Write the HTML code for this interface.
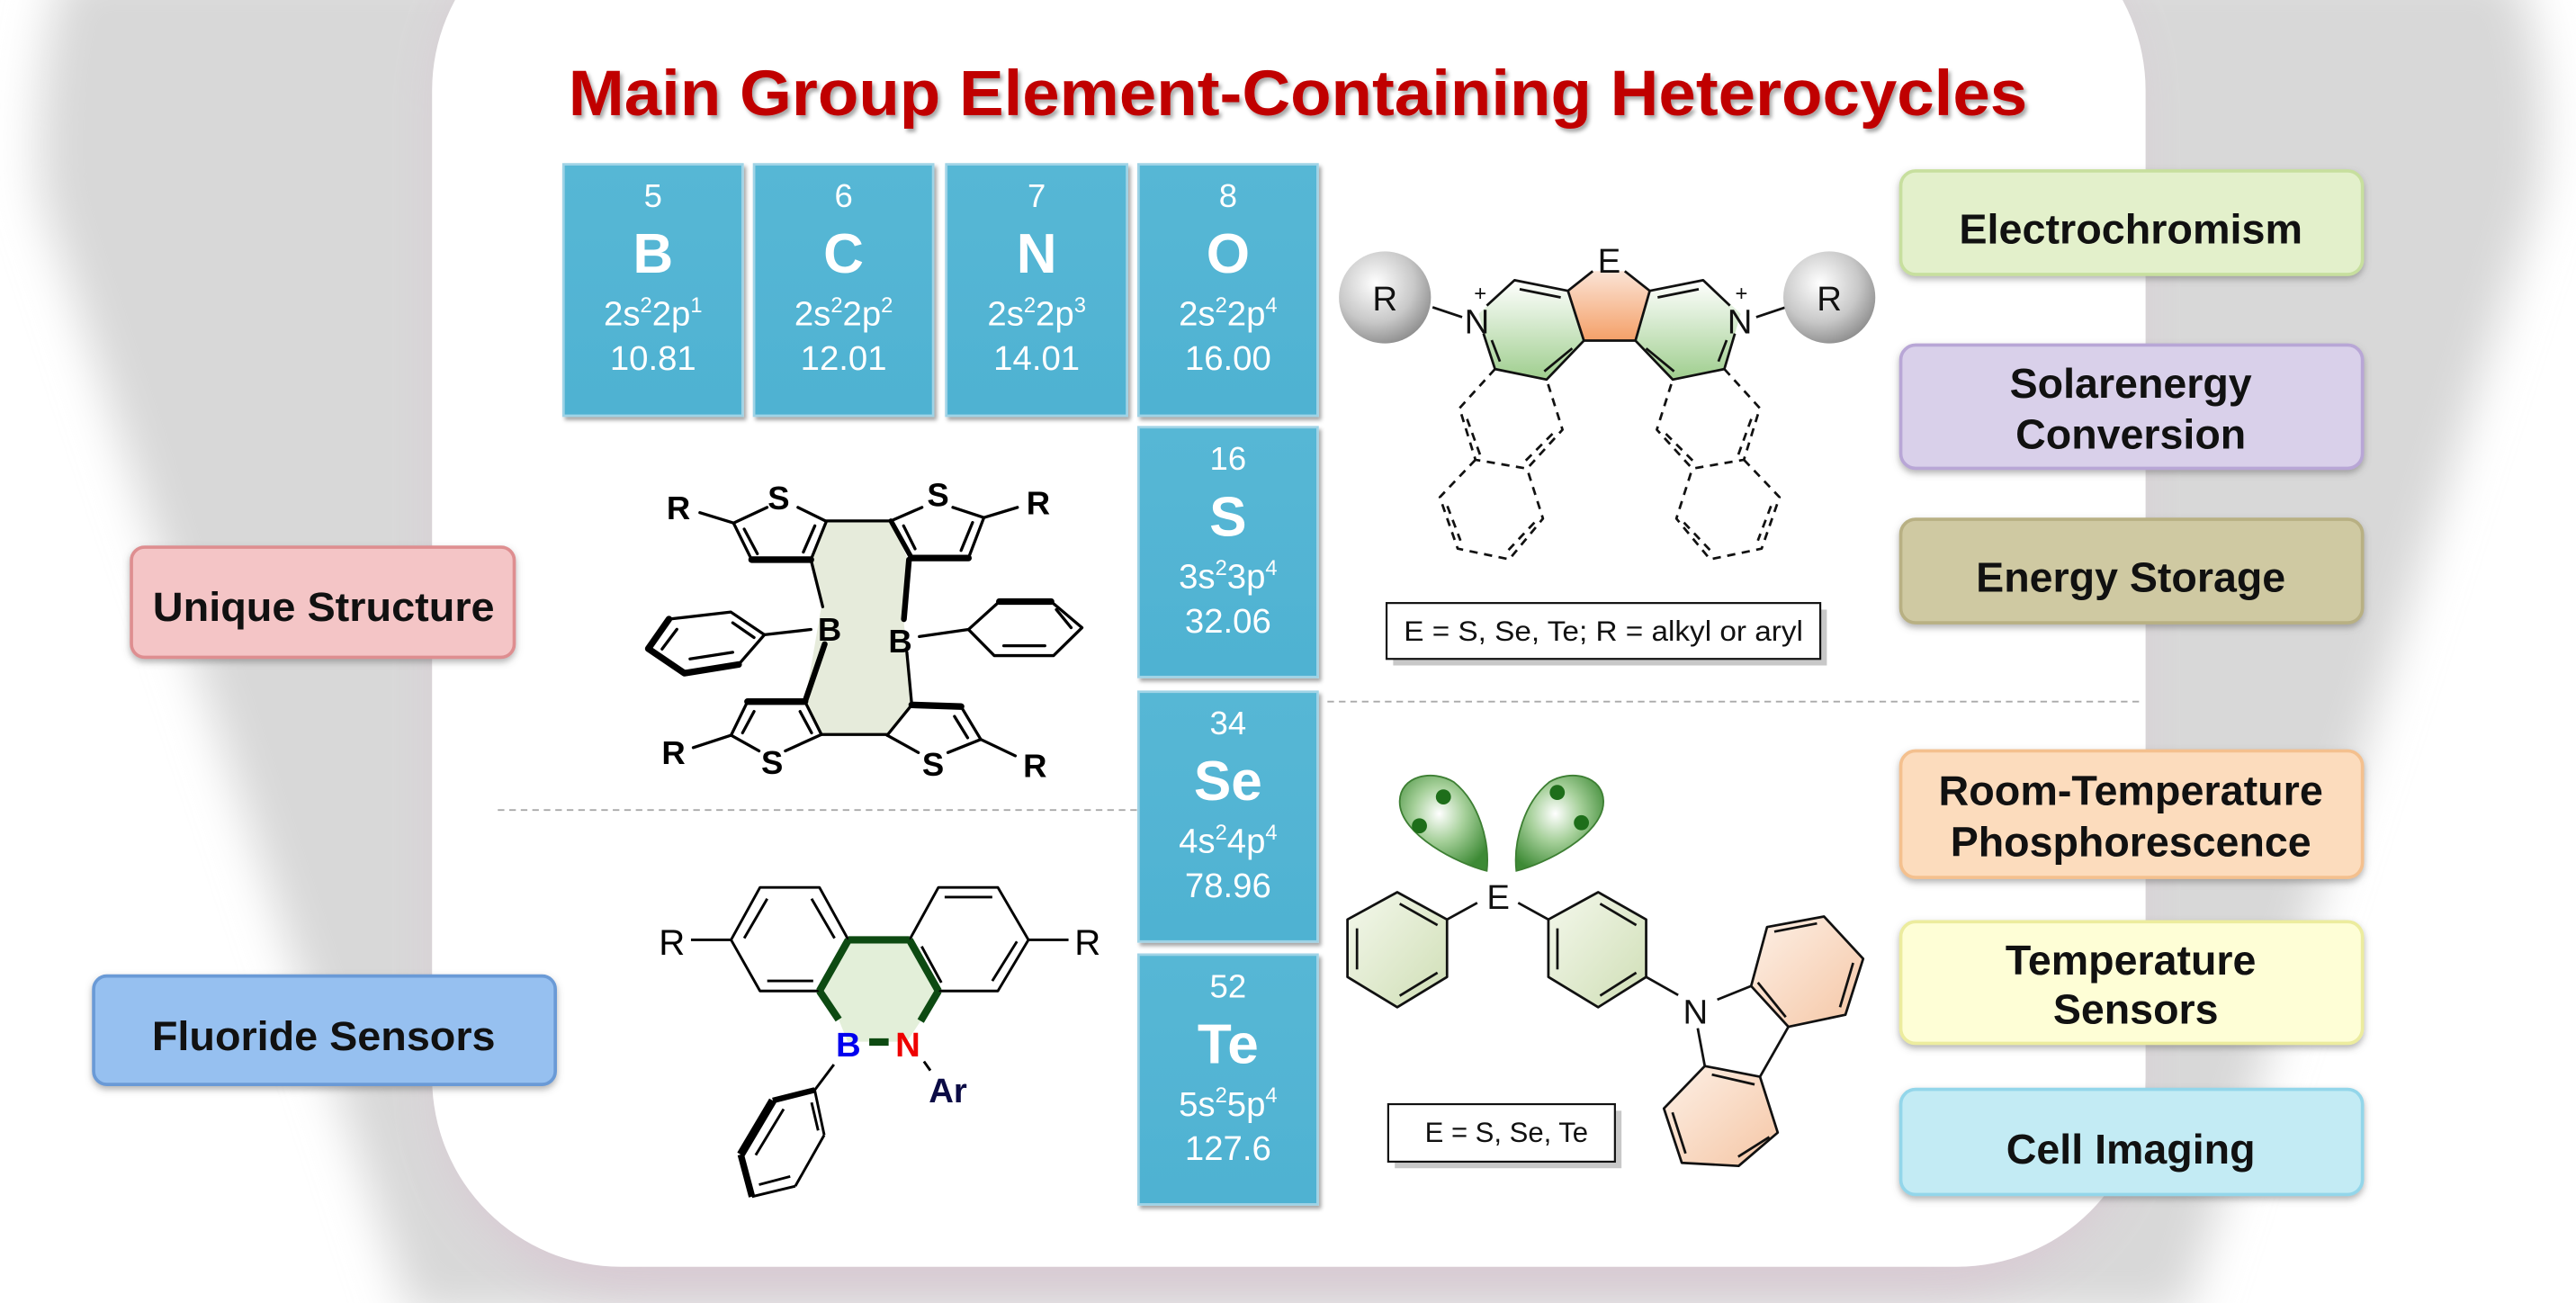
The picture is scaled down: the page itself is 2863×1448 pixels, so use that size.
<!DOCTYPE html>
<html><head><meta charset="utf-8"><style>
html,body{margin:0;padding:0;background:#fff;}
svg{display:block;}
text{font-family:"Liberation Sans",Arial,sans-serif;}
</style></head><body>
<svg width="2863" height="1448" viewBox="0 0 1568 793" xmlns="http://www.w3.org/2000/svg">
<defs>
<filter id="blur" x="-10%" y="-10%" width="120%" height="120%"><feGaussianBlur stdDeviation="14"/></filter>
<filter id="sh" x="-10%" y="-10%" width="130%" height="130%"><feDropShadow dx="1.5" dy="2" stdDeviation="1.2" flood-color="#000" flood-opacity="0.35"/></filter>
<filter id="glow" x="-10%" y="-20%" width="120%" height="140%"><feDropShadow dx="0" dy="2" stdDeviation="2" flood-color="#666" flood-opacity="0.5"/></filter>
<linearGradient id="tile" x1="0" y1="0" x2="0" y2="1"><stop offset="0" stop-color="#56b7d5"/><stop offset="1" stop-color="#4fb2d2"/></linearGradient>
<radialGradient id="ball" cx="0.4" cy="0.35" r="0.7"><stop offset="0" stop-color="#ffffff"/><stop offset="0.6" stop-color="#c8c8c8"/><stop offset="1" stop-color="#8a8a8a"/></radialGradient>
<radialGradient id="lobe" cx="0.45" cy="0.4" r="0.65"><stop offset="0" stop-color="#ffffff"/><stop offset="0.45" stop-color="#a6d09a"/><stop offset="1" stop-color="#3d8a35"/></radialGradient>
<linearGradient id="gring" x1="0" y1="0" x2="0" y2="1"><stop offset="0" stop-color="#ffffff"/><stop offset="1" stop-color="#9fce8e"/></linearGradient>
<linearGradient id="oring" x1="0" y1="0" x2="0" y2="1"><stop offset="0" stop-color="#fbe3d5"/><stop offset="1" stop-color="#f4a068"/></linearGradient>
<linearGradient id="pring" x1="0" y1="0" x2="1" y2="1"><stop offset="0" stop-color="#f4f8ec"/><stop offset="1" stop-color="#cfdeb5"/></linearGradient>
<linearGradient id="cring" x1="0" y1="0" x2="1" y2="1"><stop offset="0" stop-color="#fdf0e6"/><stop offset="1" stop-color="#f5c6a5"/></linearGradient>
</defs>

<path d="M40,-20 L1530,-20 Q1555,40 1545,120 L1330,800 L250,800 L25,120 Q20,40 40,-20 Z" fill="#d8d8d8" filter="url(#blur)"/>
<rect x="268" y="-60" width="1030" height="845" rx="120" fill="#d9c8d3" filter="url(#blur)" opacity="0.9"/>
<rect x="263" y="-60" width="1043" height="831" rx="115" fill="#ffffff"/>

<text x="790" y="70" font-size="39" font-weight="bold" fill="#c00000" text-anchor="middle" textLength="888" lengthAdjust="spacingAndGlyphs" filter="url(#sh)">Main Group Element-Containing Heterocycles</text>

<g filter="url(#sh)">
<rect x="343" y="100" width="109" height="153" fill="url(#tile)" stroke="#9fd3e6" stroke-width="1.5"/>
<rect x="459" y="100" width="109" height="153" fill="url(#tile)" stroke="#9fd3e6" stroke-width="1.5"/>
<rect x="576" y="100" width="110" height="153" fill="url(#tile)" stroke="#9fd3e6" stroke-width="1.5"/>
<rect x="693" y="100" width="109" height="153" fill="url(#tile)" stroke="#9fd3e6" stroke-width="1.5"/>
<rect x="693" y="260" width="109" height="152" fill="url(#tile)" stroke="#9fd3e6" stroke-width="1.5"/>
<rect x="693" y="421" width="109" height="152" fill="url(#tile)" stroke="#9fd3e6" stroke-width="1.5"/>
<rect x="693" y="581" width="109" height="152" fill="url(#tile)" stroke="#9fd3e6" stroke-width="1.5"/>
</g>
<g fill="#fff" text-anchor="middle">
<g transform="translate(397.5,0)"><text y="126" font-size="20">5</text><text y="166" font-size="34" font-weight="bold">B</text><text y="198" font-size="21">2s<tspan dy="-8" font-size="13">2</tspan><tspan dy="8">2p</tspan><tspan dy="-8" font-size="13">1</tspan></text><text y="225" font-size="21">10.81</text></g>
<g transform="translate(513.5,0)"><text y="126" font-size="20">6</text><text y="166" font-size="34" font-weight="bold">C</text><text y="198" font-size="21">2s<tspan dy="-8" font-size="13">2</tspan><tspan dy="8">2p</tspan><tspan dy="-8" font-size="13">2</tspan></text><text y="225" font-size="21">12.01</text></g>
<g transform="translate(631,0)"><text y="126" font-size="20">7</text><text y="166" font-size="34" font-weight="bold">N</text><text y="198" font-size="21">2s<tspan dy="-8" font-size="13">2</tspan><tspan dy="8">2p</tspan><tspan dy="-8" font-size="13">3</tspan></text><text y="225" font-size="21">14.01</text></g>
<g transform="translate(747.5,0)"><text y="126" font-size="20">8</text><text y="166" font-size="34" font-weight="bold">O</text><text y="198" font-size="21">2s<tspan dy="-8" font-size="13">2</tspan><tspan dy="8">2p</tspan><tspan dy="-8" font-size="13">4</tspan></text><text y="225" font-size="21">16.00</text></g>
<g transform="translate(747.5,160)"><text y="126" font-size="20">16</text><text y="166" font-size="34" font-weight="bold">S</text><text y="198" font-size="21">3s<tspan dy="-8" font-size="13">2</tspan><tspan dy="8">3p</tspan><tspan dy="-8" font-size="13">4</tspan></text><text y="225" font-size="21">32.06</text></g>
<g transform="translate(747.5,321)"><text y="126" font-size="20">34</text><text y="166" font-size="34" font-weight="bold">Se</text><text y="198" font-size="21">4s<tspan dy="-8" font-size="13">2</tspan><tspan dy="8">4p</tspan><tspan dy="-8" font-size="13">4</tspan></text><text y="225" font-size="21">78.96</text></g>
<g transform="translate(747.5,481)"><text y="126" font-size="20">52</text><text y="166" font-size="34" font-weight="bold">Te</text><text y="198" font-size="21">5s<tspan dy="-8" font-size="13">2</tspan><tspan dy="8">5p</tspan><tspan dy="-8" font-size="13">4</tspan></text><text y="225" font-size="21">127.6</text></g>
</g>

<line x1="303" y1="493" x2="693" y2="493" stroke="#aaa" stroke-width="1" stroke-dasharray="4,3"/>
<line x1="808" y1="427" x2="1305" y2="427" stroke="#aaa" stroke-width="1" stroke-dasharray="4,3"/>

<g filter="url(#glow)">
<rect x="80" y="333" width="233" height="67" rx="8" fill="#f4c5c6" stroke="#de8e90" stroke-width="2"/>
<rect x="57" y="594" width="281" height="66" rx="8" fill="#96c0f0" stroke="#6a9ad6" stroke-width="2"/>
</g>
<g font-size="25" font-weight="bold" fill="#111" text-anchor="middle">
<text x="197" y="378" textLength="208" lengthAdjust="spacingAndGlyphs">Unique Structure</text>
<text x="197" y="639" textLength="209" lengthAdjust="spacingAndGlyphs">Fluoride Sensors</text>
</g>

<g filter="url(#glow)" stroke-width="2">
<rect x="1157" y="104" width="281" height="63" rx="9" fill="#e3f0cb" stroke="#c7df9e"/>
<rect x="1157" y="210" width="281" height="75" rx="9" fill="#d9d0ea" stroke="#b8a6d6"/>
<rect x="1157" y="316" width="281" height="63" rx="9" fill="#cfc9a2" stroke="#b8b083"/>
<rect x="1157" y="457" width="281" height="77" rx="9" fill="#fcdcbd" stroke="#f4c08e"/>
<rect x="1157" y="561" width="281" height="74" rx="9" fill="#fefed6" stroke="#ecec9e"/>
<rect x="1157" y="663" width="281" height="64" rx="9" fill="#c3ebf4" stroke="#93d6ea"/>
</g>
<g font-size="25.5" font-weight="bold" fill="#111" text-anchor="middle">
<text x="1297" y="148" textLength="209" lengthAdjust="spacingAndGlyphs">Electrochromism</text>
<text x="1297" y="242">Solarenergy</text><text x="1297" y="273">Conversion</text>
<text x="1297" y="360">Energy Storage</text>
<text x="1297" y="490" textLength="234" lengthAdjust="spacingAndGlyphs">Room-Temperature</text><text x="1297" y="521">Phosphorescence</text>
<text x="1297" y="593">Temperature</text><text x="1300" y="623">Sensors</text>
<text x="1297" y="708">Cell Imaging</text>
</g>

<g stroke="#111" stroke-width="1.5" fill="none" stroke-linejoin="round">
<polygon points="900,191 921.9,170.5 954.4,177 964.1,207.3 941.4,231 910,224.6" fill="url(#gring)" stroke="none"/>
<polygon points="1059.6,191 1037.7,170.5 1005.2,177 995.5,207.3 1018.2,231 1049.6,224.6" fill="url(#gring)" stroke="none"/>
<polygon points="969.5,165 989,165 1004.2,177 995.5,207.3 964.1,207.3 954.4,177" fill="url(#oring)" stroke="none"/>
<polyline points="905,186 921.9,170.5 954.4,177 969.5,165"/>
<polyline points="989,165 1004.2,177 1036.7,170.5 1053,186"/>
<polyline points="954.4,177 964.1,207.3 941.4,231 910,224.6 903,203"/>
<polyline points="1004.2,177 995.5,207.3 1018.2,231 1049.6,224.6 1056,203"/>
<line x1="964.1" y1="207.3" x2="995.5" y2="207.3"/>
<line x1="925" y1="176" x2="950" y2="181"/>
<line x1="1034" y1="176" x2="1009" y2="181"/>
<line x1="957" y1="212" x2="940" y2="226"/>
<line x1="1002" y1="212" x2="1019" y2="226"/>
<line x1="908" y1="207" x2="913" y2="220"/>
<line x1="1051" y1="207" x2="1046" y2="220"/>
<line x1="872" y1="187" x2="890" y2="193"/>
<line x1="1087" y1="187" x2="1069" y2="193"/>
<g stroke-dasharray="5,4">
<polyline points="910,224.6 888.4,248.4 898.1,279.8 929.5,285.2 951.1,261.5 941.4,231"/>
<polyline points="898.1,279.8 876.4,302.6 887.3,333.9 918.7,340.4 939.2,315.6 929.5,285.2"/>
<line x1="893" y1="255" x2="901" y2="277"/><line x1="945" y1="264" x2="928" y2="281"/>
<line x1="881" y1="308" x2="889" y2="329"/><line x1="934" y1="318" x2="917" y2="336"/>
<polyline points="1049.6,224.6 1071.2,248.4 1061.5,279.8 1030.1,285.2 1008.5,261.5 1018.2,231"/>
<polyline points="1061.5,279.8 1083.2,302.6 1072.3,333.9 1040.9,340.4 1020.4,315.6 1030.1,285.2"/>
<line x1="1066" y1="255" x2="1058" y2="277"/><line x1="1014" y1="264" x2="1031" y2="281"/>
<line x1="1078" y1="308" x2="1070" y2="329"/><line x1="1025" y1="318" x2="1042" y2="336"/>
</g>
</g>
<circle cx="843" cy="181" r="28" fill="url(#ball)"/>
<circle cx="1113.5" cy="181" r="28" fill="url(#ball)"/>
<g font-size="21" fill="#111" text-anchor="middle">
<text x="843" y="189">R</text><text x="1113.5" y="189">R</text>
<text x="979.5" y="166">E</text>
<text x="899" y="203">N</text><text x="1059" y="203">N</text>
<text x="901" y="183" font-size="13">+</text><text x="1060" y="183" font-size="13">+</text>
</g>
<rect x="848" y="371" width="264" height="34" fill="#c8c8c8"/>
<rect x="844" y="367" width="264" height="34" fill="#fff" stroke="#111" stroke-width="1.2"/>
<text x="976" y="390" font-size="17" text-anchor="middle" fill="#111" textLength="243" lengthAdjust="spacingAndGlyphs">E = S, Se, Te; R = alkyl or aryl</text>

<g stroke="#111" stroke-width="1.5" fill="none" stroke-linejoin="round">
<polygon points="850.5,543 880.8,559.6 880.8,594.6 850.5,613 820.2,594.6 820.2,559.6" fill="url(#pring)"/>
<line x1="852" y1="550" x2="875" y2="563"/><line x1="826" y1="565" x2="826" y2="590"/><line x1="852" y1="606" x2="875" y2="592"/>
<polygon points="972.8,543 1002,559.6 1002,594.6 972.8,613 942.5,594.6 942.5,559.6" fill="url(#pring)"/>
<line x1="974" y1="550" x2="996" y2="563"/><line x1="948" y1="565" x2="948" y2="590"/><line x1="974" y1="606" x2="996" y2="592"/>
<line x1="880.8" y1="559.6" x2="899.2" y2="549.5"/><line x1="924.1" y1="549.5" x2="942.5" y2="559.6"/>
<line x1="1002" y1="594.6" x2="1021.5" y2="605.6"/>
<line x1="1045.3" y1="608.4" x2="1065.9" y2="600.1"/>
<line x1="1033.4" y1="625.8" x2="1037.7" y2="648.8"/>
<polygon points="1065.9,600.1 1075.6,564.2 1110.3,557.8 1134.1,583.5 1123.3,617.6 1088.6,624.9" fill="url(#cring)"/>
<line x1="1080" y1="567" x2="1106" y2="562"/><line x1="1128" y1="586" x2="1120" y2="613"/><line x1="1070" y1="598" x2="1087" y2="619"/>
<polygon points="1037.7,648.8 1071.3,655.3 1082.1,689.3 1058.3,709.6 1023.7,707.7 1012.8,674.6" fill="url(#cring)"/>
<line x1="1042" y1="654" x2="1068" y2="660"/><line x1="1077" y1="692" x2="1058" y2="704"/><line x1="1026" y1="702" x2="1018" y2="677"/>
<line x1="1088.6" y1="624.9" x2="1071.3" y2="655.3"/>
</g>
<path d="M905,530 C888,526 852,508 852,488 C852,472 872,468 885,476 C900,488 907,512 905,530 Z" fill="url(#lobe)" stroke="#3d7f33" stroke-width="1"/>
<path d="M923,530 C921,512 928,488 943,476 C956,468 976,472 976,488 C976,508 940,526 923,530 Z" fill="url(#lobe)" stroke="#3d7f33" stroke-width="1"/>
<circle cx="878.6" cy="485" r="4.6" fill="#1e6e1a"/><circle cx="864" cy="502.6" r="4.6" fill="#1e6e1a"/>
<circle cx="947.9" cy="482.3" r="4.6" fill="#1e6e1a"/><circle cx="962.6" cy="500.7" r="4.6" fill="#1e6e1a"/>
<text x="912" y="553" font-size="21" text-anchor="middle" fill="#111">E</text>
<text x="1032" y="623" font-size="21" text-anchor="middle" fill="#111">N</text>
<rect x="849" y="676" width="138" height="35" fill="#c8c8c8"/>
<rect x="845" y="672" width="138" height="35" fill="#fff" stroke="#111" stroke-width="1.2"/>
<text x="917" y="695" font-size="17" text-anchor="middle" fill="#111">E = S, Se, Te</text>

<polygon points="503,317 542,317 553,341 550,377 555,429 540,447 500,447 490,427 500,369 493.6,340.6" fill="#e6ebdb"/>
<g stroke="#000" stroke-width="1.8" fill="none" stroke-linejoin="round" stroke-linecap="round">
<line x1="426" y1="312" x2="446.5" y2="318.3"/>
<line x1="446.5" y1="318.3" x2="466.9" y2="308.8"/><line x1="485.7" y1="308.8" x2="503" y2="317.3"/>
<line x1="446.5" y1="318.3" x2="457.5" y2="340.6"/><line x1="453" y1="322" x2="461" y2="337"/>
<line x1="457.5" y1="340.6" x2="493.6" y2="340.6" stroke-width="4"/>
<line x1="493.6" y1="340.6" x2="503" y2="317.3"/><line x1="489" y1="336" x2="496" y2="320"/>
<line x1="503" y1="317" x2="542.3" y2="317"/>
<line x1="542.3" y1="317" x2="554.9" y2="339.6" stroke-width="3"/><line x1="550" y1="320" x2="557" y2="334"/>
<line x1="554.9" y1="339.6" x2="589.5" y2="339.6" stroke-width="4"/>
<line x1="589.5" y1="339.6" x2="598.9" y2="315"/><line x1="585" y1="335" x2="592" y2="318"/>
<line x1="542.3" y1="317" x2="561.2" y2="308.8"/><line x1="580" y1="308.8" x2="598.9" y2="315"/>
<line x1="598.9" y1="315" x2="619.3" y2="308.8"/>
<line x1="493.6" y1="340.6" x2="500.8" y2="369.3"/>
<line x1="553.3" y1="340.6" x2="550.2" y2="376.8" stroke-width="3.5"/>
<line x1="465.3" y1="386.3" x2="493.6" y2="383.1"/>
<polyline points="465.3,386.3 444.9,372.5 407.2,376.8"/>
<polyline points="407.2,376.8 394.6,394.8 416.6,409.7 449.6,404.4" stroke-width="4"/>
<line x1="449.6" y1="404.4" x2="465.3" y2="386.3"/>
<line x1="412" y1="383" x2="403" y2="395"/><line x1="420" y1="401" x2="446" y2="397"/><line x1="446" y1="379" x2="459" y2="388"/>
<line x1="559.6" y1="387.4" x2="589.5" y2="383.1"/>
<polyline points="589.5,383.1 608.3,366.1"/>
<line x1="608.3" y1="366.1" x2="639.8" y2="366.1" stroke-width="4"/>
<polyline points="639.8,366.1 658.6,382 641.3,399 605.2,399 589.5,383.1"/>
<line x1="611" y1="393" x2="636" y2="393"/><line x1="643" y1="371" x2="652" y2="382"/>
<line x1="502" y1="392" x2="490" y2="427" stroke-width="3.5"/>
<line x1="552" y1="397" x2="555" y2="429"/>
<line x1="490" y1="427" x2="455" y2="427" stroke-width="4"/>
<line x1="490" y1="427" x2="500" y2="447"/><line x1="487" y1="433" x2="494" y2="446"/>
<line x1="455" y1="427" x2="445" y2="447.5"/><line x1="459" y1="433" x2="452" y2="446"/>
<line x1="445" y1="447.5" x2="462" y2="457"/><line x1="478" y1="457" x2="500" y2="447"/>
<line x1="422" y1="455" x2="445" y2="447.5"/>
<line x1="500" y1="447" x2="540" y2="447"/>
<line x1="555" y1="429" x2="585" y2="430" stroke-width="4"/>
<line x1="555" y1="429" x2="540" y2="447.5"/>
<line x1="585" y1="430" x2="597" y2="450"/><line x1="581" y1="436" x2="589" y2="449"/>
<line x1="540" y1="447.5" x2="559" y2="458"/><line x1="577" y1="458" x2="597" y2="450"/>
<line x1="597" y1="450" x2="618" y2="460"/>
</g>
<g font-size="20" font-weight="bold" fill="#000" text-anchor="middle">
<text x="413" y="316">R</text><text x="474" y="310">S</text><text x="571" y="308">S</text><text x="632" y="313">R</text>
<text x="505" y="390">B</text><text x="548" y="397">B</text>
<text x="410" y="465">R</text><text x="470" y="471">S</text><text x="568" y="472">S</text><text x="630" y="473">R</text>
</g>

<polygon points="516.4,572 553.6,572 571.2,603.1 560.4,621.4 552,634 516,634 510.5,620.5 498.8,603.1" fill="#e3efd9"/>
<g stroke="#000" stroke-width="1.6" fill="none" stroke-linejoin="round">
<polygon points="445,572 462.6,540.1 498.8,540.1 516.4,572 498.8,603.1 462.6,603.1"/>
<line x1="467" y1="547" x2="453" y2="571"/><line x1="494" y1="547" x2="508" y2="571"/><line x1="467" y1="597" x2="495" y2="597"/>
<polygon points="553.6,572 571.2,540.1 607.4,540.1 626,572 607.4,603.1 571.2,603.1"/>
<line x1="575" y1="546" x2="604" y2="546"/><line x1="619" y1="573" x2="604" y2="597"/><line x1="561" y1="576" x2="573" y2="598"/>
<line x1="420.6" y1="572" x2="445" y2="572"/><line x1="626" y1="572" x2="650.4" y2="572"/>
<line x1="562.4" y1="646" x2="566.3" y2="651.5"/>
<line x1="507.6" y1="647.9" x2="495.9" y2="663.4"/>
<line x1="495.9" y1="663.4" x2="501.7" y2="690.8"/><line x1="501.7" y1="690.8" x2="484.1" y2="721.9"/>
<line x1="484.1" y1="721.9" x2="457.7" y2="728.3"/>
<line x1="457.7" y1="728.3" x2="450.9" y2="702.7" stroke-width="4"/>
<line x1="450.9" y1="702.7" x2="470.4" y2="669.8" stroke-width="5"/>
<line x1="470.4" y1="669.8" x2="495.9" y2="663.4" stroke-width="3.5"/>
<line x1="494" y1="671" x2="498" y2="688"/><line x1="477" y1="675" x2="460" y2="703"/><line x1="462" y1="721" x2="481" y2="716"/>
</g>
<g stroke="#0d4a12" stroke-width="4.5" fill="none">
<line x1="516.4" y1="572" x2="553.6" y2="572"/>
<line x1="516.4" y1="572" x2="498.8" y2="603.1"/>
<line x1="553.6" y1="572" x2="571.2" y2="603.1"/>
<line x1="498.8" y1="603.1" x2="510.5" y2="620.5"/>
<line x1="571.2" y1="603.1" x2="560.4" y2="621.4"/>
<line x1="529.1" y1="634.2" x2="540.9" y2="634.2"/>
</g>
<g font-size="22" fill="#000" text-anchor="middle">
<text x="409" y="581">R</text><text x="662" y="581">R</text>
</g>
<g font-size="21" font-weight="bold" text-anchor="middle">
<text x="516.4" y="643" fill="#0000ee">B</text>
<text x="552.6" y="643" fill="#ee0000">N</text>
<text x="577" y="671" fill="#0b0b45">Ar</text>
</g>
</svg>
</body></html>
